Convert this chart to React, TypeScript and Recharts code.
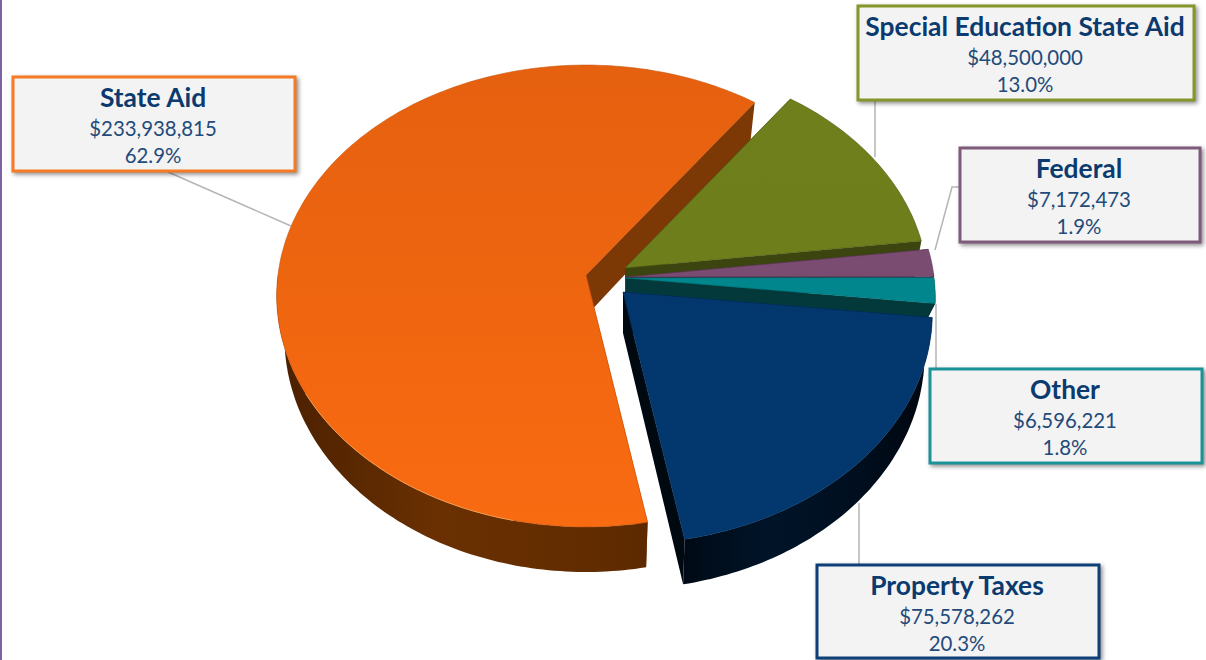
import React from 'react';
import { PieChart, Pie } from 'recharts';

const categories = ['State Aid', 'Special Education State Aid', 'Federal', 'Other', 'Property Taxes'];
const amounts = [233938815, 48500000, 7172473, 6596221, 75578262];

const tableData = categories.map((name, i) => ({ name, value: amounts[i] }));

// fake 3D: the flat pie is pushed through a small perspective
const TILT = 0.0909;
const SQUASH = 0.7435;
const DEPTH = 41;
const BOTTOM_INSET = 0.975;

const sliceLooks = [
  { dx: -40, dy: -3, scale: 1, depth: DEPTH, top: ['#e5600f', '#f96b11'], side: ['#4a2000', '#6a3002', '#622c00', '#512200'], wall: '#7c3905', border: '#c85208' },
  { dx: -1, dy: -10, scale: 0.98, depth: DEPTH, top: ['#6f7f1c', '#6d7d1b'], side: ['#3c450f', '#3c450f'], wall: '#3c450f', border: '#4d5913' },
  { dx: 0, dy: -1, scale: 1, depth: 10, top: ['#7a4c72', '#7a4c72'], side: ['#3a2236', '#3a2236'], wall: '#33203a', border: '#5a3754' },
  { dx: 0, dy: 0, scale: 1, depth: 15, top: ['#00868c', '#00868c'], side: ['#03393b', '#03393b'], wall: '#03393b', border: '#00767b' },
  { dx: -3, dy: 14, scale: 1, depth: DEPTH, top: ['#02366d', '#03386e'], side: ['#000a16', '#001428', '#000f20', '#00060e'], wall: '#000810', border: '#02305f' },
];

const callouts = [
  { x: 13, y: 77, w: 282, h: 94, color: '#f47a25', leader: [[168, 172], [291, 226]] },
  { x: 858, y: 6, w: 336, h: 94, color: '#85962a', leader: [[875, 100], [875, 157]] },
  { x: 960, y: 148, w: 240, h: 94, color: '#7f5b7b', leader: [[959, 187], [952, 187], [935, 250]] },
  { x: 930, y: 369, w: 272, h: 94, color: '#1a9297', leader: [[936, 368], [936, 304]] },
  { x: 817, y: 565, w: 282, h: 93, color: '#0f3f77', leader: [[859, 564], [859, 503]] },
];

function rimPoint(hx: number, hy: number, r: number, deg: number) {
  const a = (deg * Math.PI) / 180;
  const d = 1 + TILT * Math.sin(a);
  return { x: hx + (r * Math.cos(a)) / d, y: hy - (r * SQUASH * Math.sin(a)) / d, d, front: Math.sin(a) < 0.02 };
}

const fmt = (n: number) => n.toFixed(1);

function Slice3D(props: any) {
  const { cx, cy, outerRadius, startAngle, endAngle, index } = props;
  const i = index ?? categories.indexOf(props.name ?? props.payload?.name);
  const look = sliceLooks[i];
  const hx = cx + look.dx;
  const hy = cy + look.dy;
  const lo = Math.min(startAngle, endAngle);
  const hi = Math.max(startAngle, endAngle);
  const steps = Math.max(2, Math.ceil(hi - lo));
  const rim = [];
  for (let s = 0; s <= steps; s++) {
    rim.push(rimPoint(hx, hy, outerRadius * look.scale, lo + ((hi - lo) * s) / steps));
  }
  const first = rim[0];
  const last = rim[rim.length - 1];
  const line = (pts: { x: number; y: number }[]) => pts.map((p) => `${fmt(p.x)},${fmt(p.y)}`).join(' L');
  const drop = (p: { x: number; y: number; d: number }) => ({
    x: hx + (p.x - hx) * BOTTOM_INSET,
    y: p.y + look.depth / p.d,
  });
  const frontRim = rim.filter((p) => p.front);
  const topPath = `M${hx},${hy} L${line(rim)} Z`;
  const sidePath = frontRim.length > 1 ? `M${line(frontRim)} L${line(frontRim.map(drop).reverse())} Z` : '';
  const wall = (p: { x: number; y: number; d: number }) => {
    const b = drop(p);
    return `M${hx},${hy} L${fmt(p.x)},${fmt(p.y)} L${fmt(b.x)},${fmt(b.y)} L${hx},${hy + look.depth} Z`;
  };
  const xs = rim.map((p) => p.x);
  return (
    <g>
      <defs>
        <linearGradient id={`top-${i}`} gradientUnits="userSpaceOnUse" x1="0" y1="65" x2="0" y2="530">
          <stop offset="0" stopColor={look.top[0]} />
          <stop offset="1" stopColor={look.top[1]} />
        </linearGradient>
        <linearGradient id={`side-${i}`} gradientUnits="userSpaceOnUse" x1={Math.min(...xs)} y1="0" x2={Math.max(...xs)} y2="0">
          {look.side.map((c, k) => (
            <stop key={k} offset={k / (look.side.length - 1)} stopColor={c} />
          ))}
        </linearGradient>
      </defs>
      <path d={wall(first)} fill={look.wall} />
      <path d={wall(last)} fill={look.wall} />
      {sidePath && <path d={sidePath} fill={`url(#side-${i})`} />}
      <path d={topPath} fill={`url(#top-${i})`} stroke={look.border} strokeWidth={0.6} />
      {i === 0 && (
        <path
          d={`M${line(rim.filter((_, k) => k > 155 && k < 205))}`}
          fill="none"
          stroke="#ffb060"
          strokeWidth={1}
          strokeOpacity={0.75}
        />
      )}
    </g>
  );
}

function Callout(props: any) {
  const { index, name, value, percent } = props;
  const box = callouts[index];
  const mid = box.x + box.w / 2 - 1;
  return (
    <g>
      <polyline points={box.leader.map((p) => p.join(',')).join(' ')} fill="none" stroke="#b5b5b5" strokeWidth={1.5} />
      <rect
        x={box.x}
        y={box.y}
        width={box.w}
        height={box.h}
        fill="#f3f3f3"
        stroke={box.color}
        strokeWidth={3}
        style={{ filter: 'drop-shadow(2px 2px 2px rgba(0,0,0,0.45))' }}
      />
      <text x={mid} y={box.y + 30} textAnchor="middle" fontFamily="Lato" fontWeight={700} fontSize={26.4} fill="#0b3a6f">
        {name}
      </text>
      <text x={mid} y={box.y + 59} textAnchor="middle" fontFamily="Lato" fontSize={20.4} fill="#234b7a">
        {`$${value.toLocaleString('en-US')}`}
      </text>
      <text x={mid} y={box.y + 86} textAnchor="middle" fontFamily="Lato" fontSize={20.4} fill="#234b7a">
        {`${(percent * 100).toFixed(1)}%`}
      </text>
    </g>
  );
}

export default function App() {
  return (
    <div style={{ position: 'absolute', left: 0, top: 0, width: 1206, height: 660, background: '#fff', overflow: 'hidden' }}>
      <div style={{ position: 'absolute', left: 0, top: 0, width: 2, height: 660, background: '#7d62a3' }} />
      <PieChart width={1206} height={660} margin={{ top: 0, right: 0, bottom: 0, left: 0 }}>
        <Pie
          data={tableData}
          dataKey="value"
          nameKey="name"
          cx={626}
          cy={278}
          outerRadius={308}
          startAngle={280.5}
          endAngle={-79.5}
          stroke="none"
          shape={Slice3D}
          label={Callout}
          labelLine={false}
          isAnimationActive={false}
        />
      </PieChart>
    </div>
  );
}
